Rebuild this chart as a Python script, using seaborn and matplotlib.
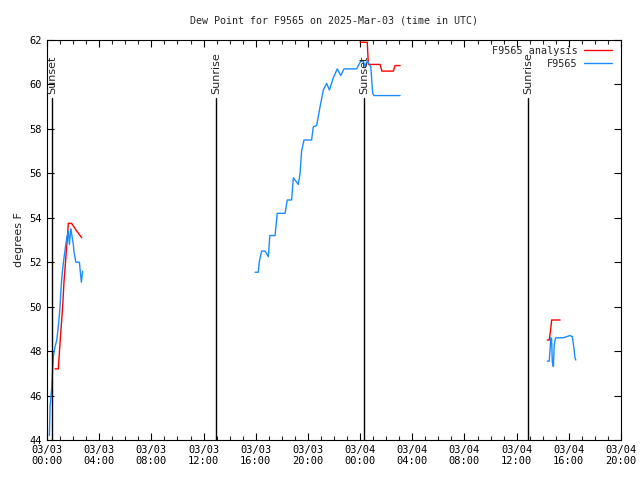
import pandas as pd
import numpy as np
import matplotlib
matplotlib.use("Agg")
import matplotlib.pyplot as plt
import matplotlib.dates as mdates
from matplotlib.lines import Line2D
import seaborn as sns

# --- observed dew point (F9565), three separate segments ---
obs_times_1 = ["03-03 00:11", "03-03 00:14", "03-03 00:22", "03-03 00:26", "03-03 00:29",
               "03-03 00:37", "03-03 00:45", "03-03 00:52", "03-03 01:00", "03-03 01:04",
               "03-03 01:09", "03-03 01:15", "03-03 01:23", "03-03 01:31", "03-03 01:38",
               "03-03 01:43", "03-03 01:49", "03-03 01:53", "03-03 02:01", "03-03 02:05",
               "03-03 02:13", "03-03 02:29", "03-03 02:32", "03-03 02:38", "03-03 02:44"]
obs_vals_1 = [44.2, 45.5, 46.4, 47.2, 47.75, 48.2, 48.5, 49.1, 50.0, 50.75,
              51.4, 51.95, 52.55, 53.1, 53.4, 52.8, 53.5, 53.3, 52.8, 52.4,
              52.0, 52.0, 51.7, 51.1, 51.6]

obs_times_2 = ["03-03 15:57", "03-03 16:12", "03-03 16:16", "03-03 16:27", "03-03 16:43",
               "03-03 16:58", "03-03 17:05", "03-03 17:29", "03-03 17:39", "03-03 18:15",
               "03-03 18:25", "03-03 18:45", "03-03 18:53", "03-03 19:16", "03-03 19:24",
               "03-03 19:31", "03-03 19:42", "03-03 20:17", "03-03 20:25", "03-03 20:40",
               "03-03 20:56", "03-03 21:11", "03-03 21:26", "03-03 21:39", "03-03 21:57",
               "03-03 22:15", "03-03 22:31", "03-03 22:46", "03-03 23:44", "03-04 00:03",
               "03-04 00:15", "03-04 00:23", "03-04 00:33", "03-04 00:49", "03-04 00:58",
               "03-04 01:04", "03-04 03:04"]
obs_vals_2 = [51.55, 51.55, 52.0, 52.5, 52.5, 52.25, 53.2, 53.2, 54.2, 54.2,
              54.8, 54.8, 55.8, 55.5, 56.0, 57.0, 57.5, 57.5, 58.1, 58.15,
              59.0, 59.75, 60.05, 59.75, 60.3, 60.7, 60.4, 60.7, 60.7, 61.05,
              61.05, 60.8, 61.05, 60.8, 59.6, 59.5, 59.5]

obs_times_3 = ["03-04 14:21", "03-04 14:30", "03-04 14:34", "03-04 14:37", "03-04 14:41",
               "03-04 14:44", "03-04 14:49", "03-04 14:53", "03-04 14:59", "03-04 15:35",
               "03-04 16:05", "03-04 16:16", "03-04 16:24", "03-04 16:28", "03-04 16:32"]
obs_vals_3 = [47.55, 47.55, 48.1, 48.6, 48.55, 47.5, 47.3, 48.3, 48.6, 48.6,
              48.7, 48.65, 48.1, 47.7, 47.6]

# --- analysis dew point (F9565 analysis) ---
ana_times_1 = ["03-03 00:37", "03-03 00:52", "03-03 01:03", "03-03 01:12", "03-03 01:18",
               "03-03 01:27", "03-03 01:35", "03-03 01:38", "03-03 01:53", "03-03 02:17",
               "03-03 02:40"]
ana_vals_1 = [47.2, 47.2, 48.8, 50.0, 51.1, 52.25, 53.3, 53.75, 53.75, 53.4, 53.1]

ana_times_2 = ["03-04 00:00", "03-04 00:33", "03-04 00:38", "03-04 01:32", "03-04 01:40",
               "03-04 02:33", "03-04 02:41", "03-04 03:04"]
ana_vals_2 = [61.9, 61.9, 60.9, 60.9, 60.6, 60.6, 60.85, 60.85]

ana_times_3 = ["03-04 14:21", "03-04 14:30", "03-04 14:37", "03-04 14:41", "03-04 15:20"]
ana_vals_3 = [48.5, 48.5, 49.0, 49.4, 49.4]

# sun events
sun_times = ["03-03 00:23", "03-03 12:57", "03-04 00:18", "03-04 12:54"]
sun_labels = ["Sunset", "Sunrise", "Sunset", "Sunrise"]

x_ticks = ["03-03 00:00", "03-03 04:00", "03-03 08:00", "03-03 12:00", "03-03 16:00",
           "03-03 20:00", "03-04 00:00", "03-04 04:00", "03-04 08:00", "03-04 12:00",
           "03-04 16:00", "03-04 20:00"]


def to_dt(lst):
    return pd.to_datetime(["2025-" + s for s in lst])


def make_df(times, vals, seg):
    return pd.DataFrame({"time": to_dt(times), "dewpt": vals, "seg": seg})


obs = pd.concat([make_df(obs_times_1, obs_vals_1, 1),
                 make_df(obs_times_2, obs_vals_2, 2),
                 make_df(obs_times_3, obs_vals_3, 3)])
ana = pd.concat([make_df(ana_times_1, ana_vals_1, 1),
                 make_df(ana_times_2, ana_vals_2, 2),
                 make_df(ana_times_3, ana_vals_3, 3)])

sns.set_style("ticks")
plt.rcParams['font.family'] = ['DejaVu Sans Mono']
plt.rcParams['font.size'] = 7

red = "#ff0000"
blue = "#1a8cff"

fig = plt.figure(figsize=(6.4, 4.8), dpi=100)
ax = fig.add_axes([47 / 640, 40 / 480, 574 / 640, 400 / 480])

sns.lineplot(data=ana, x="time", y="dewpt", units="seg", estimator=None, sort=False,
             color=red, linewidth=1, ax=ax, legend=False)
sns.lineplot(data=obs, x="time", y="dewpt", units="seg", estimator=None, sort=False,
             color=blue, linewidth=1, ax=ax, legend=False)

# sunrise / sunset markers: label sits just above the line
top_frac = (440 - 98) / 400
label_y = 62 - (94 - 40) / (400 / 18)
for t, lab in zip(to_dt(sun_times), sun_labels):
    ax.axvline(t, ymin=0, ymax=top_frac, color="black", linewidth=1)
    ax.text(mdates.date2num(t), label_y, lab, rotation=90, ha="center", va="bottom",
            fontsize=8, family="DejaVu Sans")

tick_dt = to_dt(x_ticks)
ax.set_xlim(tick_dt[0], tick_dt[-1])
ax.set_ylim(44, 62)
ax.set_xticks(tick_dt)
ax.xaxis.set_major_formatter(mdates.DateFormatter("%m/%d\n%H:%M"))
ax.xaxis.set_minor_locator(mdates.HourLocator(interval=1))
ax.set_yticks(np.arange(44, 63, 2))

ax.tick_params(axis="both", which="major", direction="in", length=5, width=0.8,
               top=True, right=True, labelsize=7.5, colors="black")
ax.tick_params(axis="x", which="minor", direction="in", length=3, width=0.8,
               top=True, bottom=True)
for s in ax.spines.values():
    s.set_linewidth(0.8)
    s.set_color("black")

ax.set_xlabel("")
ax.set_ylabel("degrees F", fontsize=8, family="DejaVu Sans")
ax.set_title("Dew Point for F9565 on 2025-Mar-03 (time in UTC)", fontsize=7.2, pad=12)

handles = [Line2D([], [], color=red, linewidth=1), Line2D([], [], color=blue, linewidth=1)]
ax.legend(handles, ["F9565 analysis", "F9565"], loc="upper right", frameon=False,
          markerfirst=False, fontsize=7.3, handlelength=2.8, borderaxespad=0.15,
          labelspacing=0.3, handletextpad=0.6, bbox_to_anchor=(0.994, 1.0))

fig.savefig("out.png", dpi=100)
